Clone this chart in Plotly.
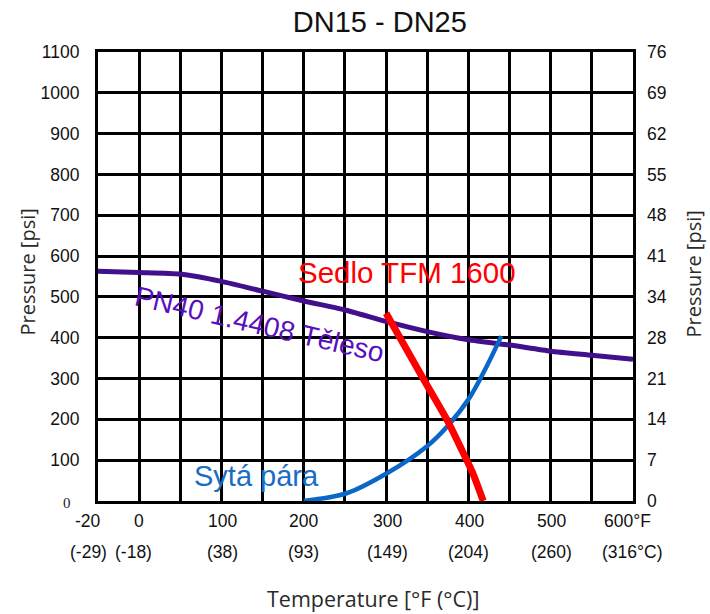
import plotly.graph_objects as go

# ---- data ----
body_temp_f = [-50, 0, 50, 100, 150, 200, 250, 300, 350, 400, 450, 500, 550, 600]
body_psi = [563, 560, 556, 538, 514, 490, 468, 440, 415, 395, 382, 367, 357, 347]

seat_temp_f = [300, 345, 375, 392, 405, 418]
seat_psi = [460, 300, 195, 125, 70, 0]

steam_temp_f = [200, 252, 301, 349, 374, 402, 422, 440]
steam_psi = [0, 19, 68, 133, 182, 255, 329, 404]

left_tickvals = [100, 200, 300, 400, 500, 600, 700, 800, 900, 1000, 1100]
left_ticktext = [str(v) for v in left_tickvals]
right_tickvals = [0, 100, 200, 300, 400, 500, 600, 700, 800, 900, 1000, 1100]
right_ticktext = ["0", "7", "14", "21", "28", "34", "41", "48", "55", "62", "69", "76"]

f_tick_pos = [-50, 0, 100, 200, 300, 400, 500, 600]
f_tick_text = ["-20", "0", "100", "200", "300", "400", "500", "600°F"]
c_tick_text = ["(-29)", "(-18)", "(38)", "(93)", "(149)", "(204)", "(260)", "(316°C)"]

TICKFONT = dict(family="Liberation Sans, Arial", size=17.5, color="#111")
TITLEFONT = dict(family="Open Sans", size=20, color="#2a2a2a")

fig = go.Figure()
fig.add_trace(go.Scatter(x=body_temp_f, y=body_psi, mode="lines",
                         line=dict(color="#42108C", width=5, shape="spline", smoothing=0.6),
                         hoverinfo="skip", showlegend=False))
fig.add_trace(go.Scatter(x=steam_temp_f, y=steam_psi, mode="lines",
                         line=dict(color="#0A66C8", width=4.5, shape="spline", smoothing=0.9),
                         hoverinfo="skip", showlegend=False))
fig.add_trace(go.Scatter(x=seat_temp_f, y=seat_psi, mode="lines",
                         line=dict(color="#FF0000", width=7, shape="spline", smoothing=0.6),
                         hoverinfo="skip", showlegend=False))
# invisible trace so the right axis renders
fig.add_trace(go.Scatter(x=[0], y=[0], yaxis="y2", mode="markers",
                         marker=dict(opacity=0), hoverinfo="skip", showlegend=False))

annotations = []
f_shifts = [-10, 0, 1, 0, 1, 1, 1, -6]
c_shifts = [-10, -6, 1, 0, 1, 0, 1, -1]
for p, t, s in zip(f_tick_pos, f_tick_text, f_shifts):
    annotations.append(dict(x=p, y=0, xref="x", yref="paper", text=t, showarrow=False,
                            xanchor="center", yanchor="middle", xshift=s, yshift=-20,
                            font=TICKFONT))
for p, t, s in zip(f_tick_pos, c_tick_text, c_shifts):
    annotations.append(dict(x=p, y=0, xref="x", yref="paper", text=t, showarrow=False,
                            xanchor="center", yanchor="middle", xshift=s, yshift=-51,
                            font=TICKFONT))
# serif zero on left axis
annotations.append(dict(x=0, y=0, xref="paper", yref="y", text="0", showarrow=False,
                        xanchor="center", yanchor="middle", xshift=-31, yshift=-2,
                        font=dict(family="Liberation Serif", size=15, color="#222")))
# axis titles
annotations.append(dict(x=0.5, y=0, xref="paper", yref="paper", text="Temperature [°F (°C)]",
                        showarrow=False, xanchor="center", yanchor="middle", yshift=-97, xshift=7,
                        font=dict(TITLEFONT, size=21.5)))
annotations.append(dict(x=0, y=0.5, xref="paper", yref="paper", text="Pressure [psi]",
                        showarrow=False, xanchor="center", yanchor="middle", xshift=-71, yshift=4,
                        textangle=-90, font=TITLEFONT))
annotations.append(dict(x=1, y=0.5, xref="paper", yref="paper", text="Pressure [psi]",
                        showarrow=False, xanchor="center", yanchor="middle", xshift=60, yshift=2,
                        textangle=-90, font=TITLEFONT))
# curve labels
annotations.append(dict(x=325, y=561, xref="x", yref="y", text="Sedlo TFM 1600", showarrow=False,
                        xanchor="center", yanchor="middle",
                        font=dict(family="Liberation Sans, Arial", size=29.5, color="#FF0000")))
annotations.append(dict(x=146, y=432, xref="x", yref="y", text="PN40 1.4408 Těleso", showarrow=False,
                        xanchor="center", yanchor="middle", textangle=13,
                        font=dict(family="Liberation Sans, Arial", size=28, color="#5A0FBF")))
annotations.append(dict(x=142, y=62, xref="x", yref="y", text="Sytá pára", showarrow=False,
                        xanchor="center", yanchor="middle",
                        font=dict(family="Liberation Sans, Arial", size=29, color="#1A6DC4")))

fig.update_layout(
    width=710, height=614,
    margin=dict(l=98, r=77, t=52, b=113),
    paper_bgcolor="white", plot_bgcolor="white",
    title=dict(text="DN15 - DN25", x=0.535, xanchor="center", y=0.965, yanchor="middle",
               font=dict(family="Liberation Sans, Arial", size=29, color="#111")),
    xaxis=dict(range=[-50, 600], tick0=0, dtick=50, showgrid=True, gridcolor="#000",
               gridwidth=2.5, zeroline=False, showticklabels=False, ticks="",
               showline=True, linecolor="#000", linewidth=3, mirror=True, fixedrange=True),
    yaxis=dict(range=[0, 1100], tickvals=left_tickvals, ticktext=left_ticktext, showgrid=True,
               gridcolor="#000", gridwidth=2.5, zeroline=False, ticks="", tickfont=TICKFONT,
               ticklabelstandoff=12,
               showline=True, linecolor="#000", linewidth=3, mirror=True, fixedrange=True),
    yaxis2=dict(range=[0, 1100], overlaying="y", side="right", tickvals=right_tickvals,
                ticktext=right_ticktext, showgrid=False, zeroline=False, ticks="",
                tickfont=TICKFONT, ticklabelstandoff=13, showline=False, fixedrange=True),
    annotations=annotations,
    showlegend=False,
)

fig.write_html("out.html", config={"displayModeBar": False},
               post_script="document.body.style.margin='0';")
